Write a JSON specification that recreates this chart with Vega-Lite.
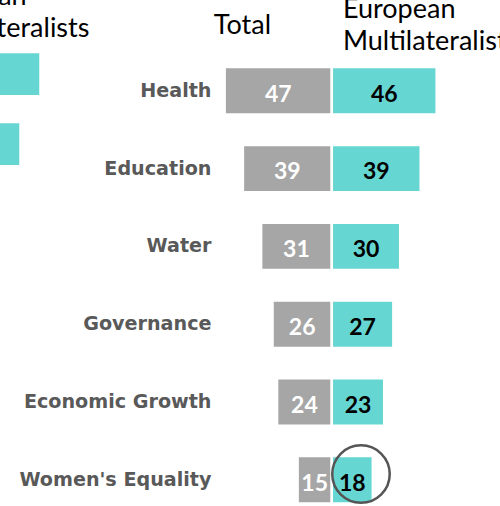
{
  "$schema": "https://vega.github.io/schema/vega-lite/v6.json",
  "width": 500,
  "height": 506,
  "autosize": {"type": "none"},
  "padding": 0,
  "background": "white",
  "config": {"view": {"stroke": null}},
  "datasets": {
    "main": [
      {"category": "Health", "total": 47, "euro": 46},
      {"category": "Education", "total": 39, "euro": 39},
      {"category": "Water", "total": 31, "euro": 30},
      {"category": "Governance", "total": 26, "euro": 27},
      {"category": "Economic Growth", "total": 24, "euro": 23},
      {"category": "Women's Equality", "total": 15, "euro": 18}
    ],
    "other": [
      {"category": "Health", "euro": 48},
      {"category": "Education", "euro": 39}
    ]
  },
  "layer": [
    {
      "data": {"name": "main"},
      "transform": [
        {"calculate": "datum.total / 2", "as": "totalMid"},
        {"calculate": "datum.euro / 2", "as": "euroMid"}
      ],
      "resolve": {"scale": {"x": "independent"}},
      "layer": [
        {
          "mark": {"type": "bar", "color": "#A6A6A6", "stroke": "white", "strokeWidth": 2.5},
          "encoding": {
            "x": {"field": "total", "type": "quantitative", "axis": null,
                  "scale": {"domain": [0, 145.53], "range": [331.8, 0], "nice": false}},
            "y": {"field": "category", "type": "nominal", "sort": null,
                  "scale": {"domain": ["header", "Health", "Education", "Water", "Governance", "Economic Growth", "Women's Equality"],
                            "range": [-25.9, 518.7], "paddingInner": 0.391, "paddingOuter": 0.1955},
                  "axis": {"title": null, "orient": "left", "offset": -213, "domain": false, "ticks": false, "grid": false,
                           "labelPadding": 2, "labelLimit": 400, "labelFont": "DejaVu Sans", "labelFontWeight": "bold",
                           "labelFontSize": 19.15, "labelColor": "#595959", "labelAlign": "right", "labelBaseline": "middle",
                           "labelExpr": "datum.value == 'header' ? '' : datum.label"}}
          }
        },
        {
          "mark": {"type": "text", "font": "Lato", "fontWeight": "bold", "fontSize": 23, "color": "white", "baseline": "alphabetic", "dy": 10.8},
          "encoding": {
            "x": {"field": "totalMid", "type": "quantitative", "axis": null,
                  "scale": {"domain": [0, 145.53], "range": [331.8, 0], "nice": false}},
            "y": {"field": "category", "type": "nominal", "sort": null},
            "text": {"field": "total", "type": "quantitative"}
          }
        },
        {
          "mark": {"type": "bar", "color": "#66D6D2", "stroke": "white", "strokeWidth": 2.5},
          "encoding": {
            "x": {"field": "euro", "type": "quantitative", "axis": null,
                  "scale": {"domain": [0, 73.77], "range": [331.8, 500], "nice": false}},
            "y": {"field": "category", "type": "nominal", "sort": null}
          }
        },
        {
          "mark": {"type": "text", "font": "Lato", "fontWeight": "bold", "fontSize": 23, "color": "black", "baseline": "alphabetic", "dy": 10.8},
          "encoding": {
            "x": {"field": "euroMid", "type": "quantitative", "axis": null,
                  "scale": {"domain": [0, 73.77], "range": [331.8, 500], "nice": false}},
            "y": {"field": "category", "type": "nominal", "sort": null},
            "text": {"field": "euro", "type": "quantitative"}
          }
        },
        {
          "transform": [{"filter": "datum.category == \"Women's Equality\""}],
          "mark": {"type": "point", "shape": "circle", "filled": false, "stroke": "#555555", "strokeWidth": 2.5, "size": 3306, "opacity": 1},
          "encoding": {
            "x": {"datum": 12.8, "type": "quantitative", "axis": null,
                  "scale": {"domain": [0, 73.77], "range": [331.8, 500], "nice": false}},
            "y": {"field": "category", "type": "nominal", "sort": null, "bandPosition": 0.38}
          }
        },
        {
          "transform": [{"filter": "datum.category == 'Health'"}],
          "mark": {"type": "text", "text": "Total", "font": "Lato", "fontSize": 27, "color": "black", "align": "center", "baseline": "alphabetic", "dy": 21},
          "encoding": {
            "x": {"datum": 39.2, "type": "quantitative", "axis": null,
                  "scale": {"domain": [0, 145.53], "range": [331.8, 0], "nice": false}},
            "y": {"datum": "header", "type": "nominal"}
          }
        },
        {
          "transform": [{"filter": "datum.category == 'Health'"}],
          "mark": {"type": "text", "text": ["European", "Multilateralists"], "lineHeight": 31.7, "font": "Lato", "fontSize": 27, "color": "black", "align": "left", "baseline": "alphabetic", "dy": 5.3},
          "encoding": {
            "x": {"datum": 4.9, "type": "quantitative", "axis": null,
                  "scale": {"domain": [0, 73.77], "range": [331.8, 500], "nice": false}},
            "y": {"datum": "header", "type": "nominal"}
          }
        },
        {
          "transform": [{"filter": "datum.category == 'Health'"}],
          "mark": {"type": "text", "text": ["European", "Multilateralists"], "lineHeight": 31.7, "font": "Lato", "fontSize": 27, "color": "black", "align": "left", "baseline": "alphabetic", "dy": -8},
          "encoding": {
            "x": {"datum": 183.2, "type": "quantitative", "axis": null,
                  "scale": {"domain": [0, 145.53], "range": [331.8, 0], "nice": false}},
            "y": {"datum": "header", "type": "nominal"}
          }
        }
      ]
    },
    {
      "data": {"name": "other"},
      "mark": {"type": "bar", "color": "#66D6D2"},
      "encoding": {
        "x": {"field": "euro", "type": "quantitative", "axis": null,
              "scale": {"domain": [0, 100], "range": [-67.3, 154.7], "nice": false}},
        "y": {"field": "category", "type": "nominal", "sort": null, "axis": null,
              "scale": {"domain": ["Health", "Education"], "range": [39.2, 179.2], "paddingInner": 0.404, "paddingOuter": 0.202}}
      }
    }
  ],
  "resolve": {"scale": {"x": "independent", "y": "independent"}}
}
